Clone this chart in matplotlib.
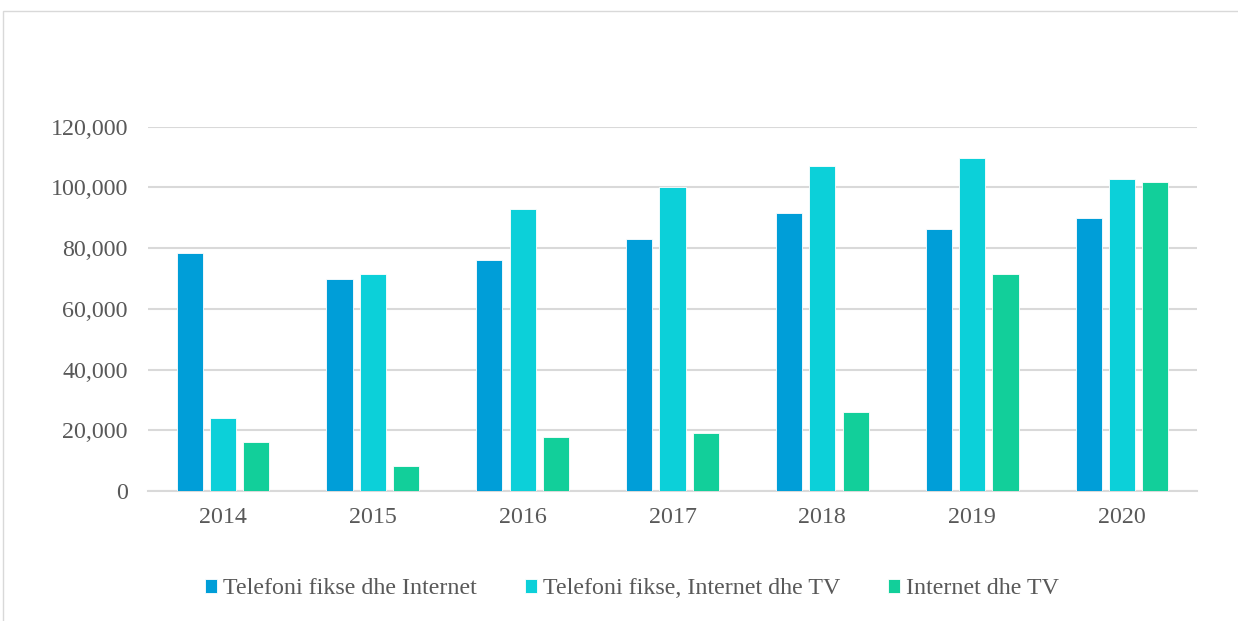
import matplotlib
matplotlib.use("Agg")
import matplotlib.pyplot as plt
import numpy as np
from matplotlib.patches import Rectangle

years = ["2014", "2015", "2016", "2017", "2018", "2019", "2020"]
series_names = ["Telefoni fikse dhe Internet", "Telefoni fikse, Internet dhe TV", "Internet dhe TV"]
fixed_internet = [78300, 69700, 76000, 83000, 91500, 86300, 89800]
fixed_internet_tv = [24100, 71600, 92900, 100100, 107000, 109700, 102800]
internet_tv = [16200, 8100, 17800, 19000, 25900, 71400, 101800]
yticks = [0, 20000, 40000, 60000, 80000, 100000, 120000]

colors = ["#009ED8", "#0CD0D9", "#12CF9A"]

plt.rcParams['font.family'] = ['Liberation Serif', 'DejaVu Serif']

W, H = 1238, 621
fig = plt.figure(figsize=(W / 100, H / 100), dpi=100)
ax = fig.add_axes([148 / W, 1 - 491 / H, (1197 - 148) / W, (491 - 126.7) / H])

x = np.arange(len(years))
bw = 0.175
off = 0.222
data = [fixed_internet, fixed_internet_tv, internet_tv]
for i, (vals, c, name) in enumerate(zip(data, colors, series_names)):
    ax.bar(x + (i - 1) * off, vals, width=bw, color=c, edgecolor="white",
           linewidth=0.6, label=name, zorder=3)

ax.set_xlim(-0.5, len(years) - 0.5)
ax.set_ylim(0, 120000)
ax.set_yticks(yticks)
ax.set_yticklabels([f"{v:,}" for v in yticks])
ax.set_xticks(x)
ax.set_xticklabels(years)
ax.yaxis.grid(True, color="#D9D9D9", linewidth=1.5, zorder=0)
ax.set_axisbelow(True)
for s in ["top", "right", "left"]:
    ax.spines[s].set_visible(False)
ax.spines["bottom"].set_color("#D9D9D9")
ax.spines["bottom"].set_linewidth(1.5)
ax.tick_params(axis="both", length=0, labelsize=17.3, colors="#595959")
ax.tick_params(axis="y", pad=14.5)
ax.tick_params(axis="x", pad=11.5)

leg = fig.legend(loc="center", bbox_to_anchor=(632 / W, 1 - 589 / H), ncol=3, frameon=False,
                 fontsize=17.3, handlelength=0.5, handleheight=0.5, handletextpad=0.25,
                 columnspacing=2.0)
for t in leg.get_texts():
    t.set_color("#595959")

border = Rectangle((3 / W, -0.02), 1.1, 1 - 10.5 / H + 0.02, transform=fig.transFigure,
                   fill=False, edgecolor="#D9D9D9", linewidth=1.0, clip_on=False)
fig.patches.append(border)

fig.savefig("out.png", dpi=100)
